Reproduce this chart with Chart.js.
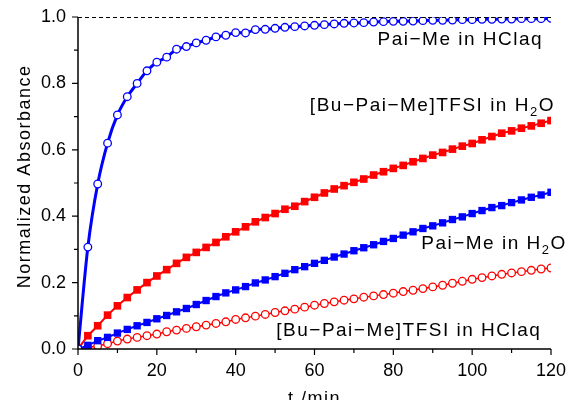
<!DOCTYPE html>
<html>
<head>
<meta charset="utf-8">
<script src="https://cdn.jsdelivr.net/npm/chart.js@4"></script>
<style>
  html, body { margin: 0; padding: 0; background: #fff; }
  #wrap { width: 568px; height: 400px; }
</style>
</head>
<body>
<div id="wrap"><canvas id="cnv" width="568" height="400"></canvas></div>
<script>
// sampling times (min)
const times = [0, 2.5, 5, 7.5, 10, 12.5, 15, 17.5, 20, 22.5, 25, 27.5, 30, 32.5, 35, 37.5,
  40, 42.5, 45, 47.5, 50, 52.5, 55, 57.5, 60, 62.5, 65, 67.5, 70, 72.5, 75, 77.5,
  80, 82.5, 85, 87.5, 90, 92.5, 95, 97.5, 100, 102.5, 105, 107.5, 110, 112.5, 115, 117.5, 120];

// Pai-Me in HClaq (open blue circles + fit)
const paiMeHCl = [0, 0.307, 0.497, 0.62, 0.705, 0.76, 0.80, 0.838, 0.864, 0.879, 0.903, 0.911,
  0.922, 0.93, 0.94, 0.945, 0.953, 0.952, 0.962, 0.963, 0.966, 0.969, 0.971, 0.973,
  0.975, 0.977, 0.979, 0.981, 0.982, 0.983, 0.985, 0.986, 0.987, 0.987, 0.988, 0.989,
  0.99, 0.99, 0.991, 0.992, 0.992, 0.993, 0.993, 0.994, 0.994, 0.995, 0.995, 0.995, 0.996];

// [Bu-Pai-Me]TFSI in H2O (red squares)
const buPaiMeH2O = [0, 0.04, 0.07, 0.102, 0.13, 0.155, 0.178, 0.2, 0.22, 0.239, 0.258, 0.276,
  0.291, 0.306, 0.321, 0.338, 0.353, 0.368, 0.383, 0.396, 0.408, 0.421, 0.43, 0.444,
  0.457, 0.47, 0.482, 0.492, 0.502, 0.512, 0.524, 0.534, 0.544, 0.553, 0.564, 0.574,
  0.584, 0.592, 0.602, 0.611, 0.619, 0.63, 0.64, 0.65, 0.657, 0.665, 0.672, 0.68, 0.688];

// Pai-Me in H2O (blue squares)
const paiMeH2O = [0, 0.011, 0.025, 0.035, 0.048, 0.059, 0.07, 0.08, 0.091, 0.101, 0.112, 0.122,
  0.134, 0.146, 0.158, 0.169, 0.178, 0.188, 0.199, 0.208, 0.218, 0.228, 0.239, 0.248,
  0.258, 0.267, 0.277, 0.286, 0.296, 0.305, 0.314, 0.324, 0.333, 0.343, 0.353, 0.363,
  0.371, 0.38, 0.39, 0.398, 0.408, 0.417, 0.426, 0.432, 0.441, 0.449, 0.457, 0.464, 0.472];

// [Bu-Pai-Me]TFSI in HClaq (open red circles)
const buPaiMeHCl = [0, 0.005, 0.009, 0.016, 0.024, 0.03, 0.035, 0.04, 0.045, 0.052, 0.057, 0.062,
  0.067, 0.072, 0.077, 0.082, 0.089, 0.094, 0.099, 0.104, 0.11, 0.115, 0.12, 0.126,
  0.132, 0.137, 0.142, 0.147, 0.151, 0.156, 0.16, 0.164, 0.168, 0.173, 0.177, 0.182,
  0.187, 0.192, 0.198, 0.204, 0.21, 0.215, 0.22, 0.225, 0.229, 0.233, 0.237, 0.241, 0.244];

// curve labels: text pieces, anchor (t, value), align
const curveLabels = [
  { parts: [['Pai\u2212Me in HClaq']], t: 118, v: 0.917, align: 'right' },
  { parts: [['[Bu\u2212Pai\u2212Me]TFSI in H'], ['2', 'sub'], ['O']], t: 121, v: 0.717, align: 'right' },
  { parts: [['Pai\u2212Me in H'], ['2', 'sub'], ['O']], t: 124, v: 0.3, align: 'right' },
  { parts: [['[Bu\u2212Pai\u2212Me]TFSI in HClaq']], t: 50.3, v: 0.039, align: 'left' }
];

const BLUE = '#0000ff';
const RED = '#ff0000';
const FONT = '"Liberation Sans", Arial, sans-serif';

function toXY(vals) {
  return times.map((t, i) => ({ x: t, y: vals[i] }));
}

function drawParts(ctx, parts, x, y, align) {
  const big = '19px ' + FONT;
  const small = '13px ' + FONT;
  ctx.letterSpacing = '1.5px';
  let total = 0;
  parts.forEach(p => {
    ctx.font = p[1] === 'sub' ? small : big;
    total += ctx.measureText(p[0]).width;
  });
  let cx = align === 'right' ? x - total : x;
  parts.forEach(p => {
    ctx.font = p[1] === 'sub' ? small : big;
    ctx.fillText(p[0], cx, p[1] === 'sub' ? y + 5 : y);
    cx += ctx.measureText(p[0]).width;
  });
  ctx.letterSpacing = '0px';
}

const axesPlugin = {
  id: 'axesPlugin',
  afterDraw(chart) {
    const ctx = chart.ctx;
    const xs = chart.scales.x, ys = chart.scales.y;
    const left = xs.left, right = xs.right, top = ys.top, bottom = ys.bottom;
    ctx.save();
    ctx.strokeStyle = '#000';
    ctx.lineWidth = 1.5;
    // axis lines
    ctx.beginPath();
    ctx.moveTo(left, top);
    ctx.lineTo(left, bottom);
    ctx.lineTo(right, bottom);
    ctx.stroke();
    // ticks
    ctx.lineWidth = 1.2;
    ctx.beginPath();
    for (let i = 0; i <= 10; i++) {
      const py = ys.getPixelForValue(i / 10);
      const len = i % 2 === 0 ? 6 : 4;
      ctx.moveTo(left, py);
      ctx.lineTo(left - len, py);
    }
    for (let i = 0; i <= 12; i++) {
      const px = xs.getPixelForValue(i * 10);
      const len = i % 2 === 0 ? 6 : 4;
      ctx.moveTo(px, bottom);
      ctx.lineTo(px, bottom + len);
    }
    ctx.stroke();
    // dashed line at 1.0
    ctx.lineWidth = 1;
    ctx.setLineDash([4, 3]);
    ctx.beginPath();
    const y1 = Math.round(ys.getPixelForValue(1)) + 0.5;
    ctx.moveTo(left, y1);
    ctx.lineTo(right, y1);
    ctx.stroke();
    ctx.setLineDash([]);

    // axis titles
    ctx.fillStyle = '#000';
    ctx.font = '18px ' + FONT;
    ctx.letterSpacing = '1.5px';
    ctx.textAlign = 'center';
    ctx.textBaseline = 'alphabetic';
    ctx.fillText('t /min', xs.getPixelForValue(60), 404);
    ctx.save();
    ctx.translate(30, ys.getPixelForValue(0.52));
    ctx.rotate(-Math.PI / 2);
    ctx.fillText('Normalized Absorbance', 0, 0);
    ctx.restore();
    ctx.letterSpacing = '0px';

    // curve labels
    ctx.textAlign = 'left';
    curveLabels.forEach(l => {
      drawParts(ctx, l.parts, xs.getPixelForValue(l.t), ys.getPixelForValue(l.v), l.align);
    });
    ctx.restore();
  }
};

const ctx = document.getElementById('cnv').getContext('2d');
new Chart(ctx, {
  type: 'line',
  data: {
    datasets: [
      {
        label: 'Pai-Me in HClaq',
        data: toXY(paiMeHCl),
        borderColor: BLUE,
        borderWidth: 3,
        cubicInterpolationMode: 'monotone',
        pointStyle: 'circle',
        pointRadius: 3.8,
        pointBorderWidth: 1.3,
        pointBackgroundColor: '#fff',
        pointBorderColor: BLUE,
        order: 1
      },
      {
        label: 'Pai-Me in H2O',
        data: toXY(paiMeH2O),
        borderColor: BLUE,
        backgroundColor: BLUE,
        borderWidth: 2,
        pointStyle: 'rect',
        pointRadius: 5.2,
        pointBorderWidth: 0,
        pointBackgroundColor: BLUE,
        order: 2
      },
      {
        label: '[Bu-Pai-Me]TFSI in H2O',
        data: toXY(buPaiMeH2O),
        borderColor: RED,
        backgroundColor: RED,
        borderWidth: 2,
        pointStyle: 'rect',
        pointRadius: 5.4,
        pointBorderWidth: 0,
        pointBackgroundColor: RED,
        order: 3
      },
      {
        label: '[Bu-Pai-Me]TFSI in HClaq',
        data: toXY(buPaiMeHCl),
        borderColor: RED,
        borderWidth: 1.5,
        pointStyle: 'circle',
        pointRadius: 3.8,
        pointBorderWidth: 1.3,
        pointBackgroundColor: '#fff',
        pointBorderColor: RED,
        order: 4
      }
    ]
  },
  options: {
    responsive: false,
    animation: false,
    layout: { padding: { top: 17, right: 17, left: 0, bottom: 0 } },
    plugins: {
      legend: { display: false },
      tooltip: { enabled: false }
    },
    scales: {
      x: {
        type: 'linear',
        min: 0,
        max: 120,
        grid: { display: false, drawTicks: false },
        border: { display: false },
        ticks: {
          stepSize: 20,
          color: '#000',
          padding: 11,
          maxRotation: 0,
          font: { size: 18, family: FONT }
        },
        afterFit(scale) {
          scale.height = 51;
          scale.paddingLeft = 0;
          scale.paddingRight = 0;
        }
      },
      y: {
        type: 'linear',
        min: 0,
        max: 1,
        grid: { display: false, drawTicks: false },
        border: { display: false },
        ticks: {
          stepSize: 0.2,
          color: '#000',
          padding: 12,
          font: { size: 18, family: FONT },
          callback: v => v.toFixed(1)
        },
        afterFit(scale) {
          scale.width = 78;
          scale.paddingTop = 0;
          scale.paddingBottom = 0;
        }
      }
    }
  },
  plugins: [axesPlugin]
});
</script>
</body>
</html>
